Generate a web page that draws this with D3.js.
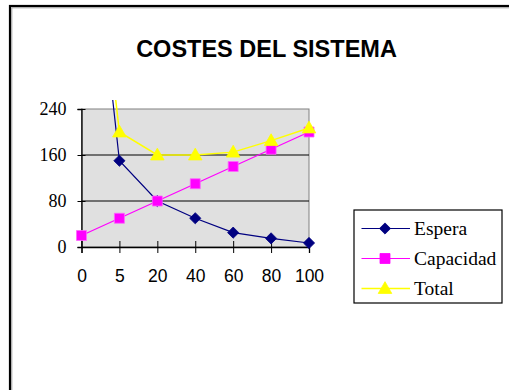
<!DOCTYPE html>
<html>
<head>
<meta charset="utf-8">
<script src="https://cdn.jsdelivr.net/npm/d3@7"></script>
<style>
  html, body { margin: 0; padding: 0; background: #fff; }
  svg { display: block; }
</style>
</head>
<body>
<svg id="chart" width="509" height="390"></svg>
<script>
// Cost components of the system for each capacity level
const categories = ["0", "5", "20", "40", "60", "80", "100"];
const espera     = [750, 150, 80, 50, 25, 15, 7];
const capacidad  = [20, 50, 80, 110, 140, 170, 200];
const total      = [770, 200, 160, 160, 165, 185, 207];
const yTicks     = [0, 80, 160, 240];

const series = [
  { name: "Espera",    values: espera,    color: "#000080", marker: "diamond" },
  { name: "Capacidad", values: capacidad, color: "#ff00ff", marker: "square" },
  { name: "Total",     values: total,     color: "#ffff00", marker: "triangle" }
];

const svg = d3.select("#chart");

// outer frame of the chart area
svg.append("rect")
  .attr("x", 10).attr("y", 6).attr("width", 560).attr("height", 450)
  .attr("fill", "none").attr("stroke", "#000").attr("stroke-width", 2.2);
svg.append("rect")
  .attr("x", 11.8).attr("y", 7.8).attr("width", 560).attr("height", 450)
  .attr("fill", "none").attr("stroke", "#9a9a9a").attr("stroke-width", 1);

// title
svg.append("text")
  .attr("x", 266.5).attr("y", 57)
  .attr("text-anchor", "middle")
  .attr("font-family", "Liberation Sans, Arial, sans-serif")
  .attr("font-weight", "bold")
  .attr("font-size", 23.5)
  .text("COSTES DEL SISTEMA");

const plot = { left: 81.5, right: 309, top: 109, bottom: 247 };

const x = d3.scalePoint().domain(categories).range([plot.left, plot.right]).padding(0);
const y = d3.scaleLinear().domain([0, 240]).range([plot.bottom, plot.top]);

// plot background
svg.append("rect")
  .attr("x", plot.left).attr("y", plot.top)
  .attr("width", plot.right - plot.left).attr("height", plot.bottom - plot.top)
  .attr("fill", "#e0e0e0")
  .attr("stroke", "#808080").attr("stroke-width", 1);

// horizontal gridlines
svg.append("g")
  .selectAll("line")
  .data(yTicks.filter(d => d > 0 && d < 240))
  .join("line")
  .attr("x1", plot.left).attr("x2", plot.right)
  .attr("y1", d => y(d)).attr("y2", d => y(d))
  .attr("stroke", "#000").attr("stroke-width", 1);

// y axis
const yAxis = svg.append("g")
  .attr("transform", `translate(${plot.left},0)`)
  .call(d3.axisLeft(y).tickValues(yTicks).tickSize(4).tickPadding(11).tickFormat(d3.format("d")));
yAxis.selectAll(".tick line").attr("x2", -4).attr("x1", 4).attr("stroke", "#000");
yAxis.select(".domain").attr("stroke", "#000").attr("stroke-width", 1.3);
yAxis.selectAll("text")
  .attr("font-family", "Liberation Serif, Times New Roman, serif")
  .attr("font-size", 18).attr("fill", "#000");

// x axis
const xAxis = svg.append("g")
  .attr("transform", `translate(0,${plot.bottom})`)
  .call(d3.axisBottom(x).tickSize(6).tickPadding(0));
xAxis.selectAll(".tick line").attr("y1", -6).attr("y2", 6).attr("stroke", "#000");
xAxis.select(".domain").attr("stroke", "#000").attr("stroke-width", 1.3);
xAxis.selectAll("text")
  .attr("font-family", "Liberation Sans, Arial, sans-serif")
  .attr("font-size", 17.5).attr("fill", "#000")
  .attr("dy", null).attr("y", 35);

// lines are cut off a little above the plot's top edge
svg.append("clipPath").attr("id", "clip")
  .append("rect")
  .attr("x", 0).attr("y", y(240) - 9)
  .attr("width", 509).attr("height", 390);

const symbolFor = {
  diamond: d3.symbol().type(d3.symbolDiamond2).size(80),
  square: d3.symbol().type(d3.symbolSquare).size(100),
  triangle: d3.symbol().type(d3.symbolTriangle).size(80)
};

const line = d3.line().x((d, i) => x(categories[i])).y(d => y(d));

const marks = svg.append("g").attr("clip-path", "url(#clip)");
series.forEach(s => {
  marks.append("path")
    .datum(s.values)
    .attr("d", line)
    .attr("fill", "none")
    .attr("stroke", s.color)
    .attr("stroke-width", s.marker === "triangle" ? 1.5 : 1.2);
  marks.append("g")
    .selectAll("path")
    .data(s.values.map((v, i) => ({ v, c: categories[i] })).filter(d => d.v <= 240))
    .join("path")
    .attr("transform", d => `translate(${x(d.c)},${y(d.v) + (s.marker === "triangle" ? 1 : 0)})`)
    .attr("d", symbolFor[s.marker])
    .attr("fill", s.color)
    .attr("stroke", s.marker === "square" ? "#ff66ff" : s.color)
    .attr("stroke-width", 0.8);
});

// legend
const legend = svg.append("g");
legend.append("rect")
  .attr("x", 354).attr("y", 210).attr("width", 148).attr("height", 93)
  .attr("fill", "#fff").attr("stroke", "#000").attr("stroke-width", 1.2);

const rows = legend.selectAll("g.row")
  .data(series)
  .join("g")
  .attr("class", "row")
  .attr("transform", (d, i) => `translate(0,${228.5 + i * 30})`);
rows.append("line")
  .attr("x1", 361.5).attr("x2", 410).attr("y1", 0).attr("y2", 0)
  .attr("stroke", d => d.color).attr("stroke-width", d => d.marker === "triangle" ? 1.5 : 1.2);
rows.append("path")
  .attr("transform", d => `translate(385,${d.marker === "triangle" ? 1 : 0})`)
  .attr("d", d => symbolFor[d.marker]())
  .attr("fill", d => d.color)
  .attr("stroke", d => d.color).attr("stroke-width", 0.8);
rows.append("text")
  .attr("x", 414).attr("y", 6.5)
  .attr("font-family", "Liberation Serif, Times New Roman, serif")
  .attr("font-size", 19.5)
  .text(d => d.name);
</script>
</body>
</html>
